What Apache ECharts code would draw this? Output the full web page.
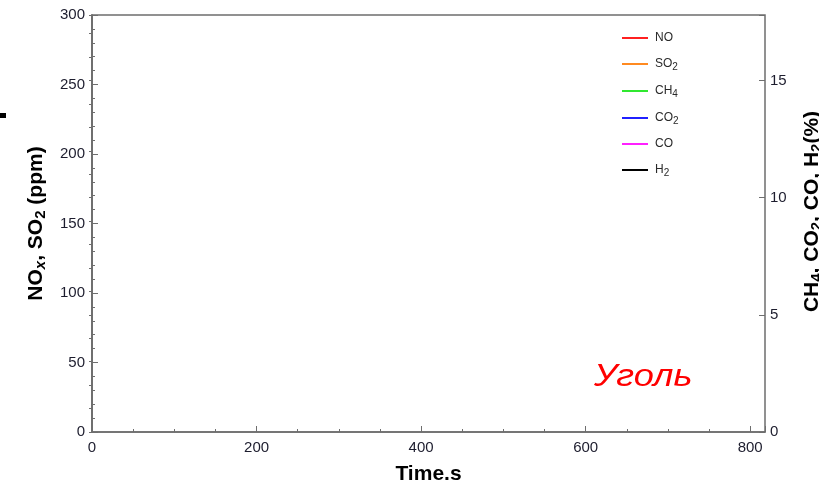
<!DOCTYPE html>
<html><head><meta charset="utf-8">
<script src="https://cdn.jsdelivr.net/npm/echarts@6/dist/echarts.min.js"></script>
<style>html,body{margin:0;padding:0;background:#fff}#c{width:819px;height:485px}</style>
</head><body><div id="c"></div>
<script>
// Data (the reference plot shows no data points, only the legend)
var seriesNames = ['NO', 'SO2', 'CH4', 'CO2', 'CO', 'H2'];
var seriesColors = ['#ff2020', '#ff8a20', '#30e830', '#2020ff', '#ff20ff', '#000000'];
var noData = [];
var so2Data = [];
var ch4Data = [];
var co2Data = [];
var coData = [];
var h2Data = [];
var xTicks = [0, 200, 400, 600, 800];
var yLeftTicks = [0, 50, 100, 150, 200, 250, 300];
var yRightTicks = [0, 5, 10, 15];

var legendLabels = {
  'NO': '{a|NO}',
  'SO2': '{a|SO}{s|2}',
  'CH4': '{a|CH}{s|4}',
  'CO2': '{a|CO}{s|2}',
  'CO': '{a|CO}',
  'H2': '{a|H}{s|2}'
};
var allData = [noData, so2Data, ch4Data, co2Data, coData, h2Data];
var rightAxisSeries = [false, false, true, true, true, true];

var axisColor = '#6e6e6e';
var labelStyle = {color: '#1d1d2e', fontSize: 15, fontFamily: 'Arial'};

var chart = echarts.init(document.getElementById('c'));
var series = seriesNames.map(function (n, i) {
  return {
    name: n, type: 'line', data: allData[i], showSymbol: false, symbol: 'none',
    xAxisIndex: 0, yAxisIndex: rightAxisSeries[i] ? 1 : 0,
    lineStyle: {color: seriesColors[i], width: 1.5}, itemStyle: {color: seriesColors[i]}
  };
});

chart.setOption({
  animation: false,
  grid: {left: 92, right: 54, top: 15, bottom: 53, outerBoundsMode: 'none', containLabel: false,
    show: true, borderColor: axisColor, borderWidth: 1.5, backgroundColor: 'transparent'},
  legend: {
    orient: 'vertical', left: 617, top: 26, itemWidth: 26, itemHeight: 2, itemGap: 11.0,
    icon: 'rect', data: seriesNames,
    formatter: function (n) { return legendLabels[n]; },
    textStyle: {
      color: '#2a2a2a', fontSize: 12, fontFamily: 'Arial', lineHeight: 14,
      rich: {
        a: {fontSize: 12, fontFamily: 'Arial', color: '#2a2a2a', lineHeight: 14, padding: [0, 0, 0, 2]},
        s: {fontSize: 10, fontFamily: 'Arial', color: '#2a2a2a', lineHeight: 14, padding: [6, 0, 0, 0]}
      }
    }
  },
  xAxis: [
    {
      type: 'value', min: 0, max: 818, interval: 50, position: 'bottom',
      axisLine: {show: true, lineStyle: {color: axisColor, width: 1.5}},
      axisTick: {show: true, inside: true, length: 3, lineStyle: {color: axisColor}},
      axisLabel: {show: false}, splitLine: {show: false}
    },
    {
      type: 'value', min: 0, max: 818, interval: 200, position: 'bottom', offset: 0,
      axisLine: {show: false},
      axisTick: {show: true, inside: true, length: 6, lineStyle: {color: axisColor}},
      axisLabel: Object.assign({margin: 8, formatter: function (v) { return xTicks.indexOf(v) >= 0 ? String(v) : ''; }}, labelStyle),
      splitLine: {show: false},
      name: 'Time.s', nameLocation: 'middle', nameGap: 32,
      nameTextStyle: {fontSize: 21, fontWeight: 'bold', color: '#000', fontFamily: 'Arial'}
    }
  ],
  yAxis: [
    {
      type: 'value', min: 0, max: 300, interval: 50, position: 'left',
      axisLine: {show: true, lineStyle: {color: axisColor, width: 1.5}},
      axisTick: {show: true, inside: true, length: 6, lineStyle: {color: axisColor}},
      minorTick: {show: true, splitNumber: 5, length: 3, lineStyle: {color: axisColor}},
      axisLabel: Object.assign({margin: 7, formatter: function (v) { return yLeftTicks.indexOf(v) >= 0 ? String(v) : ''; }}, labelStyle),
      splitLine: {show: false}, minorSplitLine: {show: false},
      name: '{b|NO}{i|x}{b|, SO}{s|2}{b| (ppm)}', nameLocation: 'middle', nameGap: 44, nameRotate: 90,
      nameTextStyle: {
        rich: {
          b: {fontSize: 21, fontWeight: 'bold', fontFamily: 'Arial', color: '#000'},
          i: {fontSize: 15, fontWeight: 'bold', fontStyle: 'italic', fontFamily: 'Arial', color: '#000', padding: [9, 0, 0, 0]},
          s: {fontSize: 15, fontWeight: 'bold', fontFamily: 'Arial', color: '#000', padding: [9, 0, 0, 0]}
        }
      }
    },
    {
      type: 'value', min: 0, max: 17.8, interval: 1, position: 'right',
      axisLine: {show: true, lineStyle: {color: axisColor, width: 1.5}},
      axisTick: {show: true, inside: true, length: 3, lineStyle: {color: axisColor}},
      axisLabel: {show: false}, splitLine: {show: false}
    },
    {
      type: 'value', min: 0, max: 17.8, interval: 5, position: 'right',
      axisLine: {show: false},
      axisTick: {show: true, inside: true, length: 6, lineStyle: {color: axisColor}},
      axisLabel: Object.assign({margin: 5, formatter: function (v) { return yRightTicks.indexOf(v) >= 0 ? String(v) : ''; }}, labelStyle),
      splitLine: {show: false},
      name: '{b|CH}{s|4}{b|, CO}{s|2}{b|, CO, H}{s|2}{b|(%)}', nameLocation: 'middle', nameGap: 35, nameRotate: 90,
      nameTextStyle: {
        padding: [0, 0, 0, 24],
        rich: {
          b: {fontSize: 21, fontWeight: 'bold', fontFamily: 'Arial', color: '#000'},
          s: {fontSize: 15, fontWeight: 'bold', fontFamily: 'Arial', color: '#000', padding: [9, 0, 0, 0]}
        }
      }
    }
  ],
  graphic: [
    {type: 'text', x: 594, y: 361, scaleX: 1.13, style: {text: 'Уголь', fill: '#ff0000', font: 'italic 32px Arial'}},
    {type: 'rect', shape: {x: 0, y: 113, width: 6, height: 5}, style: {fill: '#000'}}
  ],
  series: series
});
</script></body></html>
